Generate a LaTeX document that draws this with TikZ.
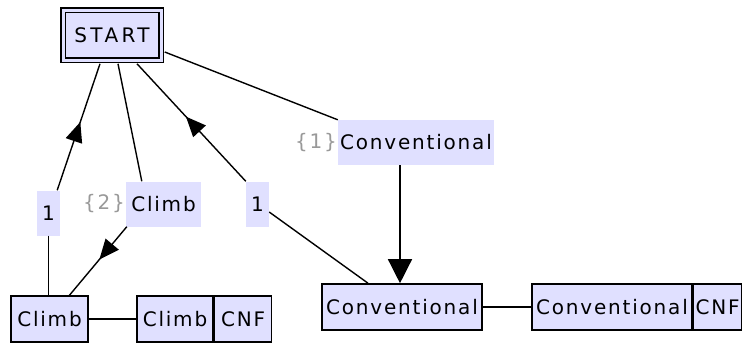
\documentclass[tikz,border=0pt]{standalone}
\usepackage{fontspec}
\setmainfont{DejaVu Sans}[LetterSpace=9]
\usetikzlibrary{arrows.meta,decorations.markings}
\definecolor{lav}{RGB}{224,224,255}
\begin{document}
\begin{tikzpicture}[x=1pt,y=-1pt,
  every node/.style={font=\fontsize{20}{23}\selectfont, inner sep=0pt},
  box/.style={draw, line width=1.6pt, fill=lav, minimum height=46pt},
  lab/.style={fill=lav, minimum height=45pt},
  conn/.style={line width=1.4pt},
  tag/.style={text=gray!80},
  midarrow/.style={postaction={decorate}, decoration={markings,
    mark=at position #1 with {\arrow{Triangle[length=20pt,width=17pt]}}}}
]
\useasboundingbox (0,0) rectangle (742,343);

\node[draw, double=lav, double distance=3pt, line width=1.5pt, fill=lav,
      minimum width=98pt, minimum height=50pt,
      font=\fontsize{20}{23}\selectfont\addfontfeature{LetterSpace=17}] (start) at (112,35) {START};

\node[lab, minimum width=23pt] (l1a) at (48.5,213) {1};
\node[lab, minimum width=75pt] (l2) at (163.5,204) {Climb};
\node[tag] (t2) at (104,204) {\{2\}};
\node[lab, minimum width=23pt] (l1b) at (257.5,204) {1};
\node[lab, minimum width=156pt] (l3) at (416,142.5) {Conventional};
\node[tag] (t1) at (316,142.5) {\{1\}};

\node[box, minimum width=77pt] (climb) at (49.5,319) {Climb};
\node[box, minimum width=76pt] (climb2) at (175,319) {Climb};
\node[box, minimum width=57pt, anchor=west] (cnf1) at (climb2.east) {CNF};
\node[box, minimum width=160pt] (conv) at (402,307) {Conventional};
\node[box, minimum width=160pt] (conv2) at (612,307) {Conventional};
\node[box, minimum width=48pt, anchor=west] (cnf2) at (conv2.east) {CNF};

% edge 1: Climb -> START via "1"
\draw[conn] (l1a.south) -- (l1a.south |- climb.north);
\draw[conn, midarrow=0.54] ([xshift=-3pt]l1a.north east) -- ([xshift=-12pt,yshift=-3pt]start.south);
% edge 2: START -> Climb via "Climb"
\draw[conn] ([xshift=6pt,yshift=-3pt]start.south) -- ([xshift=16pt]l2.north west);
\draw[conn, midarrow=0.48] ([xshift=1pt]l2.south west) -- ([xshift=20pt]climb.north);
% edge 3: Conventional -> START via "1"
\draw[conn, midarrow=0.55] (l1b.north west) -- ([xshift=25pt,yshift=-3pt]start.south);
\draw[conn] ([yshift=-8pt]l1b.east) -- ([xshift=-34pt]conv.north);
% edge 4: START -> Conventional via "Conventional"
\draw[conn] ([xshift=3pt,yshift=-17pt]start.east) -- (l3.north west);
\draw[conn, -{Triangle[length=24pt,width=24pt]}] ([xshift=-2pt]conv.north |- l3.south) -- ([xshift=-2pt]conv.north);
% attribute links
\draw[conn] (climb.east) -- (climb2.west);
\draw[conn] (conv.east) -- (conv2.west);
\end{tikzpicture}
\end{document}
